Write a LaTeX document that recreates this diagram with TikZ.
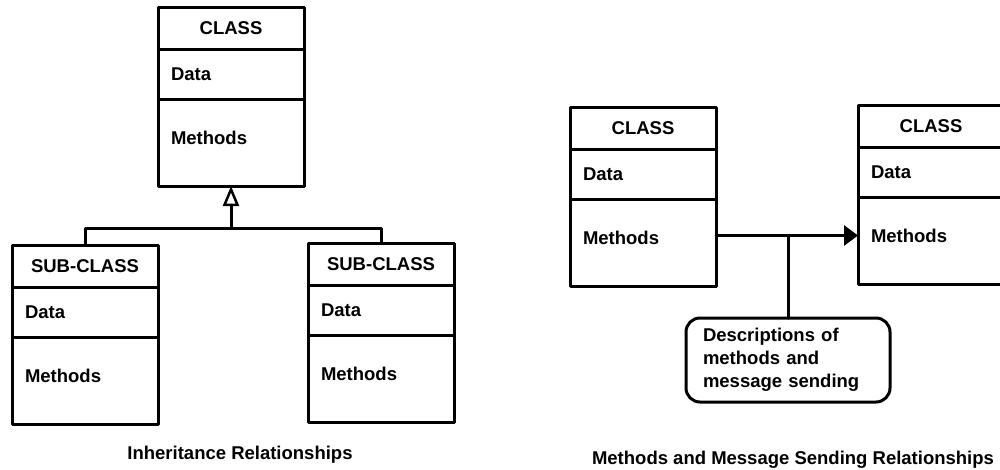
\documentclass[tikz,border=0pt]{standalone}
\usepackage{fontspec}
\setmainfont{Liberation Sans}
\usetikzlibrary{arrows.meta, positioning}

\begin{document}
\begin{tikzpicture}[line cap=round,line join=round,x=1pt,y=-1pt,line width=3pt,
  box/.style={draw, outer sep=0pt, inner xsep=13pt, inner ysep=0pt,
    text width=120pt, minimum width=146pt, text height=13.2pt, text depth=0pt,
    align=left, font=\fontsize{18.5}{23}\selectfont\bfseries},
  head/.style={box, align=center, minimum height=42pt},
  data/.style={box, minimum height=50pt},
  meth/.style={box, minimum height=87pt, text depth=10pt},
  note/.style={draw, rounded corners=14pt, outer sep=0pt, inner xsep=17pt,
    text width=170pt, minimum width=204pt, minimum height=84pt, align=left,
    font=\fontsize{18.5}{23}\selectfont\bfseries},
  caption/.style={anchor=base, font=\fontsize{18.5}{23}\selectfont\bfseries}]
\useasboundingbox (0,0) rectangle (1000,469);
\clip (0,0) rectangle (1000,469);

% inheritance: class and its two sub-classes
\node[head, anchor=north west] (c-head) at (158,7) {CLASS};
\node[data, below=0pt of c-head] (c-data) {Data};
\node[meth, below=0pt of c-data] (c-meth) {Methods};

\node[head, anchor=north west] (s1-head) at (12,245) {SUB-CLASS};
\node[data, below=0pt of s1-head] (s1-data) {Data};
\node[meth, below=0pt of s1-data] (s1-meth) {Methods};

\node[head, anchor=north west] (s2-head) at (308,243) {SUB-CLASS};
\node[data, below=0pt of s2-head] (s2-data) {Data};
\node[meth, below=0pt of s2-data] (s2-meth) {Methods};

\coordinate (hub) at ([yshift=-42pt]c-meth.south);
\draw (s1-head.north) |- (hub) -| (s2-head.north);
\draw[-{Triangle[open,length=20pt,width=16pt,line width=2.5pt]}] (hub) -- (c-meth.south);

% message sending between two classes
\node[head, anchor=north west] (l-head) at (570,107) {CLASS};
\node[data, below=0pt of l-head] (l-data) {Data};
\node[meth, below=0pt of l-data] (l-meth) {Methods};

\node[head, anchor=north west] (r-head) at (858,105) {CLASS};
\node[data, below=0pt of r-head] (r-data) {Data};
\node[meth, below=0pt of r-data] (r-meth) {Methods};

\node[note, anchor=north west] (desc) at (686,318)
  {Descriptions of\\methods and\\message sending};

\coordinate (send) at ([yshift=7pt]l-meth.east);
\draw[-{Triangle[length=14pt,width=20pt]}] (send) -- (send -| r-meth.west);
\draw (desc.north) -- (desc.north |- send);

\node[caption] (cap-inh) at (240,459) {Inheritance Relationships};
\node[caption] (cap-msg) at (793,464) {Methods and Message Sending Relationships};

\end{tikzpicture}
\end{document}
